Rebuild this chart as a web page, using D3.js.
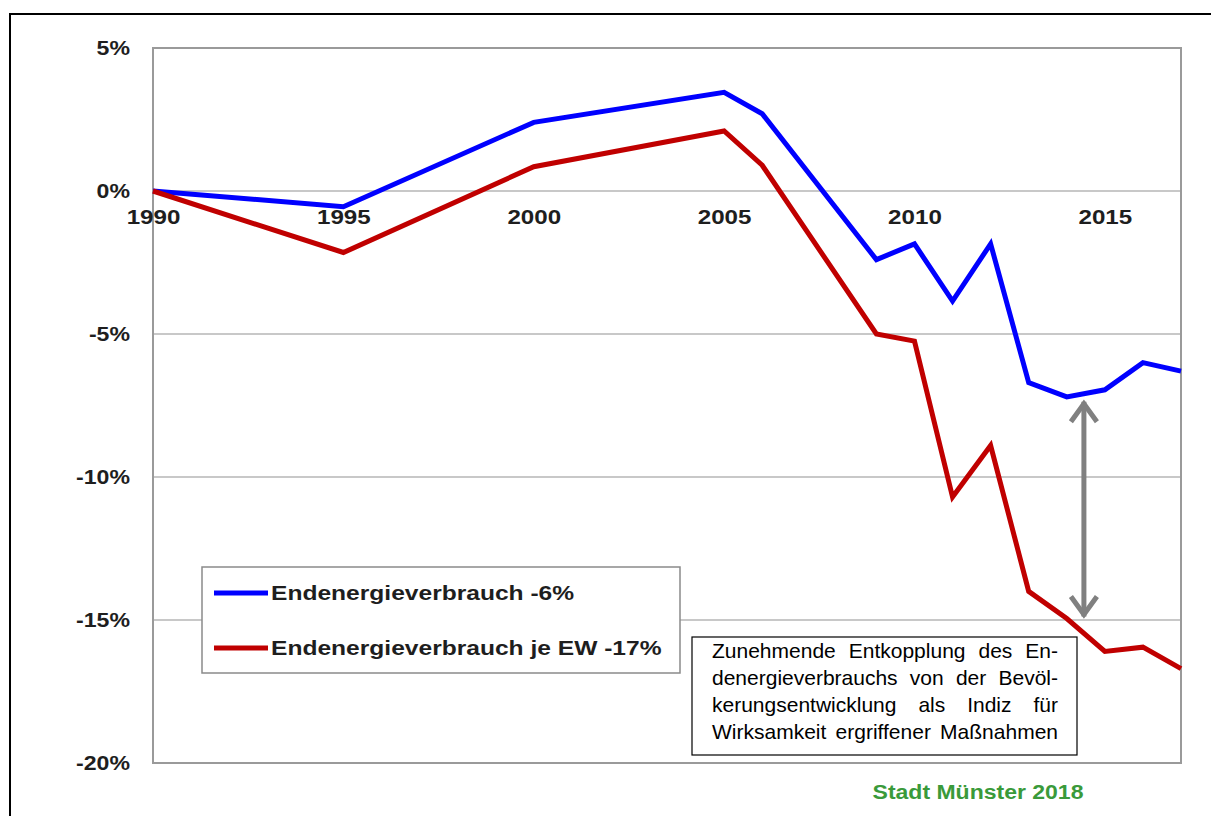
<!DOCTYPE html>
<html>
<head>
<meta charset="utf-8">
<script src="https://cdn.jsdelivr.net/npm/d3@7"></script>
<style>
  html, body { margin: 0; padding: 0; background: #fff; }
  #wrap { position: relative; width: 1211px; height: 816px; overflow: hidden; }
  svg { position: absolute; left: 0; top: 0; }
  .note { position: absolute; font-family: Arial, "Liberation Sans", sans-serif; font-size: 21px; color: #000; }
  .note div { text-align: justify; text-align-last: justify; line-height: 27px; white-space: nowrap; }
</style>
</head>
<body>
<div id="wrap"></div>
<script>
// ---- data ----
const years = [1990, 1995, 2000, 2005, 2006, 2009, 2010, 2011, 2012, 2013, 2014, 2015, 2016, 2017];
const energy = [0, -0.55, 2.4, 3.45, 2.7, -2.4, -1.85, -3.85, -1.85, -6.7, -7.2, -6.95, -6.0, -6.3];
const energyPerResident = [0, -2.15, 0.85, 2.1, 0.9, -5.0, -5.25, -10.7, -8.9, -14.0, -14.95, -16.1, -15.95, -16.7];
const seriesNames = ["Endenergieverbrauch -6%", "Endenergieverbrauch je EW -17%"];
const xTickYears = [1990, 1995, 2000, 2005, 2010, 2015];
const yTicks = [5, 0, -5, -10, -15, -20];
const noteLines = [
  "Zunehmende Entkopplung des En-",
  "denergieverbrauchs von der Bevöl-",
  "kerungsentwicklung als Indiz für",
  "Wirksamkeit ergriffener Maßnahmen"
];
const sourceText = "Stadt Münster 2018";

// ---- layout ----
const W = 1211, H = 816;
const plot = { left: 153, right: 1181, top: 48, bottom: 763 };
const colors = ["#0000ff", "#c00000"];

const wrap = d3.select("#wrap");
const svg = wrap.append("svg").attr("width", W).attr("height", H);

// horizontally widen bold labels (the reference's lettering is wider than plain Arial)
function stretch(sel, k) {
  sel.each(function () {
    const len = this.getComputedTextLength();
    d3.select(this).attr("textLength", len * k).attr("lengthAdjust", "spacingAndGlyphs");
  });
}

// outer frame
svg.append("rect").attr("x", 10).attr("y", 14).attr("width", 1240).attr("height", 840)
  .attr("fill", "#fff").attr("stroke", "#000").attr("stroke-width", 2);

const x = d3.scaleLinear().domain([1990, 2017]).range([plot.left, plot.right]);
const y = d3.scaleLinear().domain([-20, 5]).range([plot.bottom, plot.top]);

const font = "Arial, 'Liberation Sans', sans-serif";

// gridlines
svg.append("g").selectAll("line").data([0, -5, -10, -15]).join("line")
  .attr("x1", plot.left).attr("x2", plot.right)
  .attr("y1", d => y(d)).attr("y2", d => y(d))
  .attr("stroke", "#c8c8c8").attr("stroke-width", 2);

// plot border
svg.append("rect").attr("x", plot.left).attr("y", plot.top)
  .attr("width", plot.right - plot.left).attr("height", plot.bottom - plot.top)
  .attr("fill", "none").attr("stroke", "#9a9a9a").attr("stroke-width", 2);

// y axis
const yAxis = svg.append("g").attr("transform", `translate(${plot.left},0)`)
  .call(d3.axisLeft(y).tickValues(yTicks).tickSize(0).tickPadding(23).tickFormat(d => d + "%"));
yAxis.select(".domain").remove();
yAxis.selectAll("text").attr("font-family", font).attr("font-size", 21).attr("font-weight", "bold")
  .attr("fill", "#1e1e1e");
stretch(yAxis.selectAll("text"), 1.1);

// x axis labels at 0 line
const xAxis = svg.append("g").attr("transform", `translate(0,${y(0)})`)
  .call(d3.axisBottom(x).tickValues(xTickYears).tickSize(0).tickPadding(18).tickFormat(d3.format("d")));
xAxis.select(".domain").remove();
xAxis.selectAll("text").attr("font-family", font).attr("font-size", 21).attr("font-weight", "bold")
  .attr("fill", "#1e1e1e");
stretch(xAxis.selectAll("text"), 1.15);

// lines
const line = d3.line().x((d, i) => x(years[i])).y(d => y(d));
[energy, energyPerResident].forEach((s, k) => {
  svg.append("path").datum(s).attr("d", line).attr("fill", "none")
    .attr("stroke", colors[k]).attr("stroke-width", 5).attr("stroke-linejoin", "miter");
});

// legend
const lg = svg.append("g");
lg.append("rect").attr("x", 202).attr("y", 567).attr("width", 478).attr("height", 106)
  .attr("fill", "#fff").attr("stroke", "#8a8a8a").attr("stroke-width", 1.5);
seriesNames.forEach((n, k) => {
  const yy = 593 + k * 55;
  lg.append("line").attr("x1", 214).attr("x2", 268).attr("y1", yy).attr("y2", yy)
    .attr("stroke", colors[k]).attr("stroke-width", 5);
  const t = lg.append("text").attr("x", 271).attr("y", yy + 7).text(n)
    .attr("font-family", font).attr("font-size", 21).attr("font-weight", "bold").attr("fill", "#1e1e1e");
  stretch(t, 1.17);
});

// arrow
const ax = x(2014.45);
const a1 = y(-7.3), a2 = y(-14.95);
const ag = svg.append("g").attr("stroke", "#808080").attr("stroke-width", 5).attr("fill", "none")
  .attr("stroke-linecap", "butt").attr("stroke-linejoin", "miter");
ag.append("line").attr("x1", ax).attr("x2", ax).attr("y1", a1 + 2).attr("y2", a2 - 2);
ag.append("polyline").attr("points", `${ax - 13},${a1 + 22} ${ax},${a1 + 4} ${ax + 13},${a1 + 22}`);
ag.append("polyline").attr("points", `${ax - 13},${a2 - 22} ${ax},${a2 - 4} ${ax + 13},${a2 - 22}`);

// annotation box
svg.append("rect").attr("x", 692).attr("y", 637).attr("width", 385).attr("height", 118)
  .attr("fill", "#fff").attr("stroke", "#000").attr("stroke-width", 1.2);

const note = wrap.append("div").attr("class", "note")
  .style("left", "712px").style("top", "637px").style("width", "346px");
note.selectAll("div").data(noteLines).join("div").text(d => d);

// source
const src = svg.append("text").attr("x", 978).attr("y", 799).attr("text-anchor", "middle").text(sourceText)
  .attr("font-family", font).attr("font-size", 20).attr("font-weight", "bold").attr("fill", "#3a9a3a");
stretch(src, 1.15);
</script>
</body>
</html>
